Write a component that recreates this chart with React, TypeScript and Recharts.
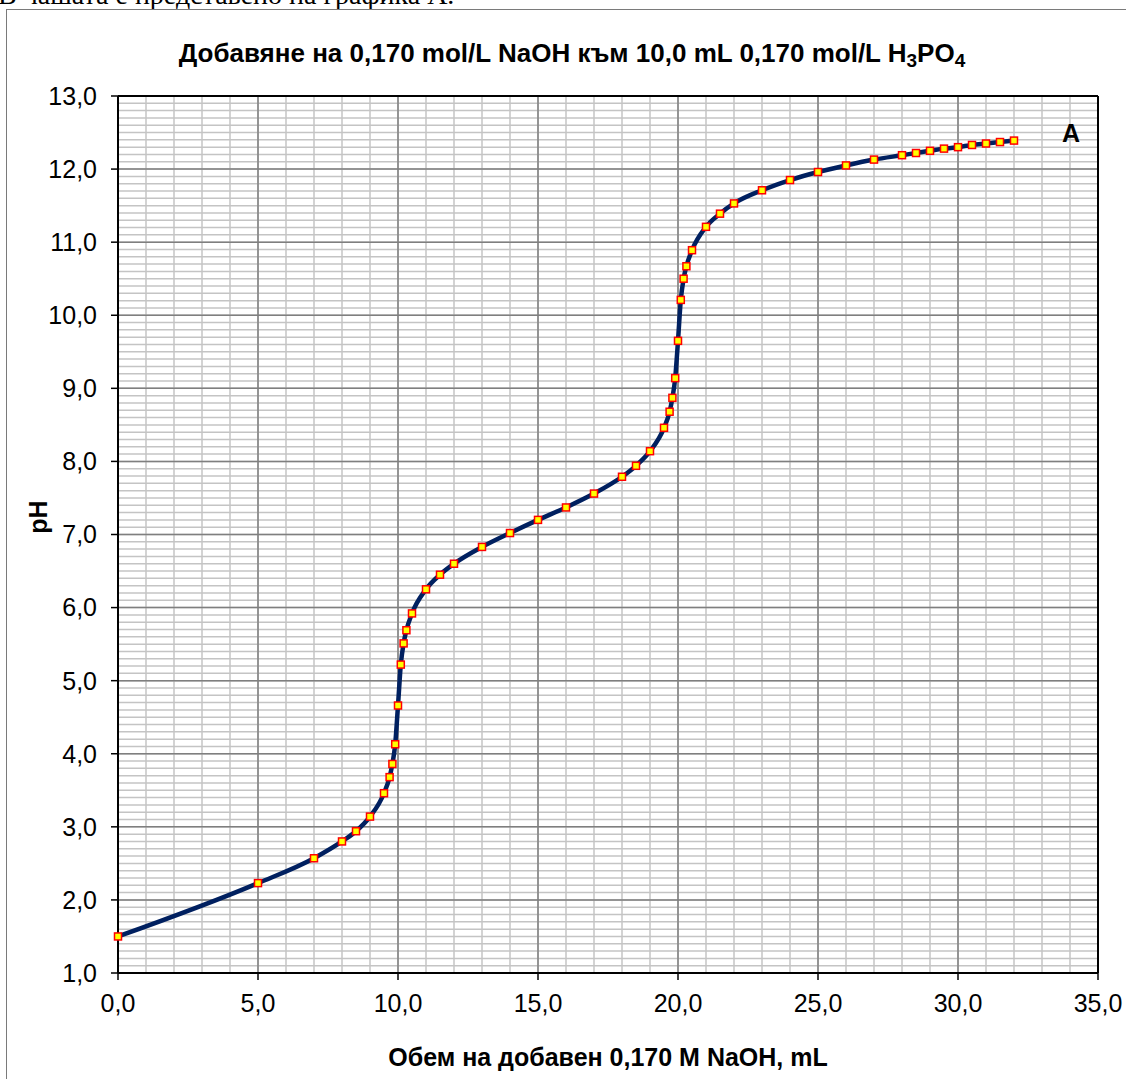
import { CartesianGrid, Line, LineChart, ReferenceLine, XAxis, YAxis } from "recharts";

// titration data: volume of NaOH added (mL) vs pH
const VOLUME = [
  0, 5, 7, 8, 8.5, 9, 9.5, 9.7, 9.8, 9.9,
  10, 10.1, 10.2, 10.3, 10.5, 11, 11.5, 12, 13, 14,
  15, 16, 17, 18, 18.5, 19, 19.5, 19.7, 19.8, 19.9,
  20, 20.1, 20.2, 20.3, 20.5, 21, 21.5, 22, 23, 24,
  25, 26, 27, 28, 28.5, 29, 29.5, 30, 30.5, 31,
  31.5, 32,
];
const PH = [
  1.5, 2.23, 2.57, 2.8, 2.94, 3.14, 3.46, 3.68, 3.86, 4.13,
  4.66, 5.22, 5.51, 5.69, 5.92, 6.25, 6.45, 6.6, 6.83, 7.02,
  7.2, 7.37, 7.56, 7.79, 7.94, 8.14, 8.46, 8.68, 8.87, 9.14,
  9.65, 10.21, 10.5, 10.67, 10.89, 11.21, 11.39, 11.53, 11.71, 11.85,
  11.96, 12.05, 12.13, 12.19, 12.22, 12.25, 12.28, 12.3, 12.33, 12.35,
  12.37, 12.39,
];

const X_TICKS = [0, 5, 10, 15, 20, 25, 30, 35];
const Y_TICKS = [1, 2, 3, 4, 5, 6, 7, 8, 9, 10, 11, 12, 13];
// minor grid: every 1 mL and every 0.1 pH
const X_MINOR = Array.from({ length: 36 }, (_, i) => i);
const Y_MINOR = Array.from({ length: 121 }, (_, i) => 1 + i / 10);

const data = VOLUME.map((v, i) => ({ v, ph: PH[i] }));

const FONT = '"Liberation Sans", Arial, sans-serif';
const fmt = (n: number) => n.toFixed(1).replace(".", ",");

function SquareDot(props: any) {
  const { cx, cy, index } = props;
  if (cx == null || cy == null) return <g key={`d-${index}`} />;
  return (
    <rect
      key={`d-${index}`}
      x={cx - 3.5}
      y={cy - 3.5}
      width={7}
      height={7}
      fill="#ffff00"
      stroke="#ff0000"
      strokeWidth={1.5}
    />
  );
}

export default function App() {
  return (
    <div
      style={{
        position: "absolute",
        left: 0,
        top: 0,
        width: 1126,
        height: 1079,
        overflow: "hidden",
        background: "#fff",
        fontFamily: FONT,
      }}
    >
      {/* tail of the paragraph above the chart, cut by the crop */}
      <div
        style={{
          position: "absolute",
          left: -2,
          top: -19,
          fontFamily: '"Liberation Serif", "Times New Roman", serif',
          fontSize: 28,
          lineHeight: "28px",
          whiteSpace: "nowrap",
        }}
      >
        В чашата е представено на графика А.
      </div>
      <div
        style={{
          position: "absolute",
          left: 6,
          top: 9,
          width: 1200,
          height: 1200,
          borderLeft: "1px solid #7a7a7a",
          borderTop: "1px solid #7a7a7a",
        }}
      />
      <LineChart
        width={1126}
        height={1079}
        data={data}
        margin={{ top: 96, right: 28, left: 58, bottom: 66 }}
        style={{ position: "absolute", left: 0, top: 0 }}
      >
        <CartesianGrid
          horizontalValues={Y_MINOR}
          verticalValues={X_MINOR}
          stroke="#c4c4c4"
          strokeWidth={1.5}
        />
        <CartesianGrid
          horizontalValues={Y_TICKS}
          verticalValues={X_TICKS}
          stroke="#7f7f7f"
          strokeWidth={1.5}
        />
        <XAxis
          dataKey="v"
          type="number"
          domain={[0, 35]}
          ticks={X_TICKS}
          interval={0}
          height={40}
          tickFormatter={fmt}
          tickSize={7}
          tickMargin={14}
          axisLine={{ stroke: "#000", strokeWidth: 2 }}
          tickLine={{ stroke: "#000", strokeWidth: 1.5 }}
          tick={{ fill: "#000", fontSize: 25, fontFamily: FONT }}
        />
        <YAxis
          type="number"
          domain={[1, 13]}
          ticks={Y_TICKS}
          interval={0}
          width={60}
          tickFormatter={fmt}
          tickSize={7}
          tickMargin={14}
          axisLine={{ stroke: "#000", strokeWidth: 2 }}
          tickLine={{ stroke: "#000", strokeWidth: 1.5 }}
          tick={{ fill: "#000", fontSize: 25, fontFamily: FONT }}
        />
        <ReferenceLine y={13} stroke="#000" strokeWidth={2} />
        <ReferenceLine x={35} stroke="#000" strokeWidth={2} />
        <Line
          dataKey="ph"
          type="monotone"
          stroke="#002060"
          strokeWidth={4.5}
          dot={SquareDot}
          activeDot={false}
          isAnimationActive={false}
        />
      </LineChart>
      <div
        style={{
          position: "absolute",
          left: 572,
          top: 40,
          transform: "translateX(-50%)",
          fontSize: 26,
          lineHeight: "26px",
          fontWeight: "bold",
          whiteSpace: "nowrap",
        }}
      >
        Добавяне на 0,170 mol/L NaOH към 10,0 mL 0,170 mol/L H
        <span style={{ fontSize: 19, verticalAlign: "-5px" }}>3</span>PO
        <span style={{ fontSize: 19, verticalAlign: "-5px" }}>4</span>
      </div>
      <div
        style={{
          position: "absolute",
          left: 608,
          top: 1045,
          transform: "translateX(-50%)",
          fontSize: 25,
          lineHeight: "25px",
          fontWeight: "bold",
          whiteSpace: "nowrap",
        }}
      >
        Обем на добавен 0,170 М NaOH, mL
      </div>
      <div
        style={{
          position: "absolute",
          left: 38,
          top: 517,
          transform: "translate(-50%, -50%) rotate(-90deg)",
          fontSize: 25,
          lineHeight: "25px",
          fontWeight: "bold",
          whiteSpace: "nowrap",
        }}
      >
        pH
      </div>
      <div
        style={{
          position: "absolute",
          left: 1062,
          top: 121,
          fontSize: 25,
          lineHeight: "25px",
          fontWeight: "bold",
        }}
      >
        A
      </div>
    </div>
  );
}
